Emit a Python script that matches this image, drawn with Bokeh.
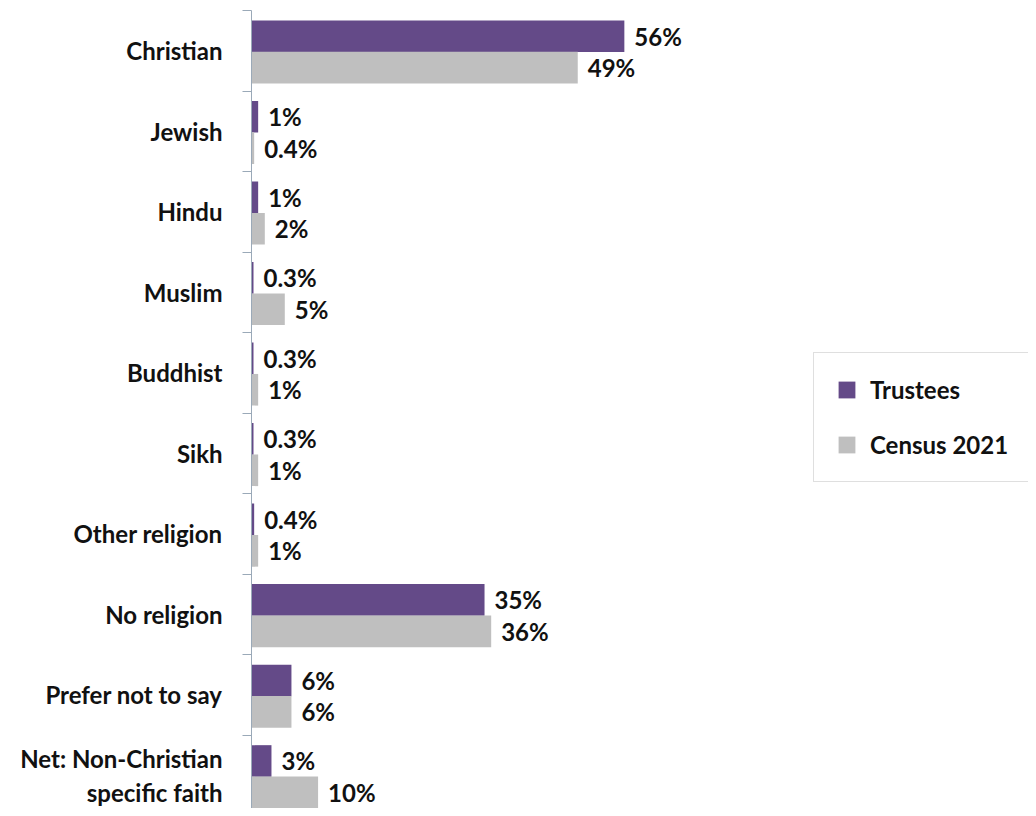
from bokeh.plotting import figure
from bokeh.models import Range1d, FixedTicker, ColumnDataSource, Legend, LegendItem
from bokeh.core.properties import value
from bokeh.embed import file_html
from bokeh.resources import INLINE

categories = ["Christian", "Jewish", "Hindu", "Muslim", "Buddhist", "Sikh",
              "Other religion", "No religion", "Prefer not to say",
              "Net: Non-Christian\nspecific faith"]
trustees = [56, 1, 1, 0.3, 0.3, 0.3, 0.4, 35, 6, 3]
census = [49, 0.4, 2, 5, 1, 1, 1, 36, 6, 10]
trustee_labels = ["56%", "1%", "1%", "0.3%", "0.3%", "0.3%", "0.4%", "35%", "6%", "3%"]
census_labels = ["49%", "0.4%", "2%", "5%", "1%", "1%", "1%", "36%", "6%", "10%"]
series_names = ["Trustees", "Census 2021"]

PURPLE = "#644a88"
GRAY = "#bfbfbf"
FONT = "Lato"

n = len(categories)
centers = [i + 0.5 for i in range(n)]

p = figure(width=1028, height=808, output_backend="svg", toolbar_location=None,
           x_range=Range1d(0, 116.7), y_range=Range1d(9.91, 0),
           min_border_left=251, min_border_right=0, min_border_top=10, min_border_bottom=0,
           x_axis_location=None)
p.outline_line_color = None
p.xgrid.visible = False
p.ygrid.visible = False
p.background_fill_color = "white"

src_t = ColumnDataSource(dict(y=[c - 0.18 for c in centers], v=trustees, lab=trustee_labels))
src_c = ColumnDataSource(dict(y=[c + 0.21 for c in centers], v=census, lab=census_labels))

rt = p.hbar(y="y", right="v", left=0, height=0.393, source=src_t, color=PURPLE, line_color=None)
rc = p.hbar(y="y", right="v", left=0, height=0.393, source=src_c, color=GRAY, line_color=None)

for src in (src_t, src_c):
    p.text(x="v", y="y", text="lab", source=src, x_offset=10,
           text_align="left", text_baseline="middle",
           text_font=value(FONT), text_font_style="bold", text_font_size="24px",
           text_color="#111111")

ax = p.yaxis[0]
ax.ticker = FixedTicker(ticks=centers, minor_ticks=list(range(n + 1)))
ax.major_label_overrides = {c: cat for c, cat in zip(centers, categories)}
ax.major_tick_in = 0
ax.major_tick_out = 0
ax.minor_tick_in = 0
ax.minor_tick_out = 9
ax.minor_tick_line_color = "#9aa9b8"
ax.axis_line_color = "#9aa9b8"
ax.axis_line_width = 1
ax.major_label_standoff = 20
ax.major_label_text_font = FONT
ax.major_label_text_font_style = "bold"
ax.major_label_text_font_size = "24px"
ax.major_label_text_color = "#111111"

legend = Legend(items=[LegendItem(label=series_names[0], renderers=[rt]),
                       LegendItem(label=series_names[1], renderers=[rc])],
                location=(562, 326), orientation="vertical",
                glyph_width=21, glyph_height=21, label_height=24,
                spacing=26, padding=22, margin=0, label_standoff=13,
                label_text_font=FONT, label_text_font_style="bold",
                label_text_font_size="24px", label_text_color="#111111",
                border_line_color="#c0c0c0", border_line_width=1,
                background_fill_color="white", background_fill_alpha=1)
p.add_layout(legend, "center")

open("out.html", "w").write(file_html(p, INLINE))
